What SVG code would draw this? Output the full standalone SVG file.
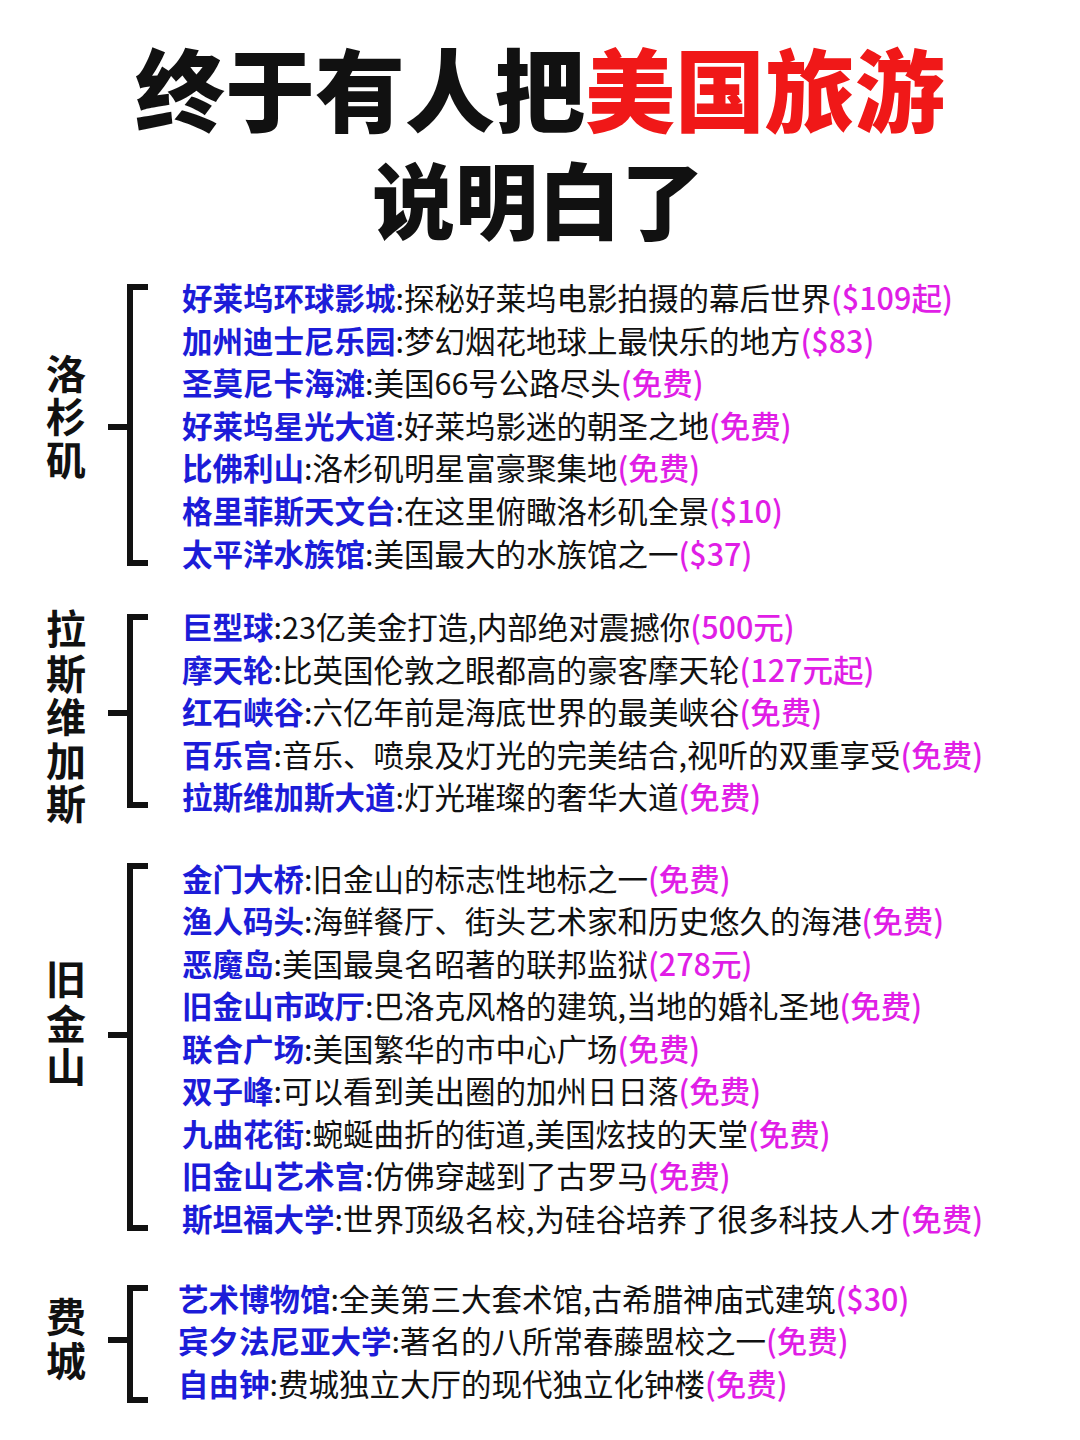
<svg xmlns="http://www.w3.org/2000/svg" width="1080" height="1440" viewBox="0 0 1080 1440">
<style>
.t{font-family:"Noto Sans CJK SC","Noto Sans",sans-serif;font-size:30.5px;fill:#111}
.b{fill:#1c1cd8;font-weight:bold}
.m{fill:#e01ee6;font-weight:500}
.lab{font-family:"Noto Sans CJK SC",sans-serif;font-size:40px;font-weight:bold;fill:#111;text-anchor:middle}
.h{font-family:"Noto Sans CJK SC",sans-serif;font-size:90px;font-weight:900;fill:#111;text-anchor:middle}
.br{fill:none;stroke:#111;stroke-width:6}
</style>
<rect width="1080" height="1440" fill="#fff"/>
<g id="title">
<text class="h" x="540" y="125">终于有人把<tspan fill="#f01818">美国旅游</tspan></text>
<text class="h" x="538" y="233" style="font-size:83px">说明白了</text>
</g>
<g id="connectors">
<path class="br" d="M148 287H130V563H148M130 427H108"/>
<path class="br" d="M148 617H130V805H148M130 713H108"/>
<path class="br" d="M148 866H130V1228H148M130 1035H108"/>
<path class="br" d="M148 1288H130V1400H148M130 1340H108"/>
</g>
<g id="la">
<text class="lab" x="66" y="389">洛</text><text class="lab" x="66" y="432">杉</text><text class="lab" x="66" y="475">矶</text>
<text class="t" x="182" y="310"><tspan class="b">好莱坞环球影城</tspan>:探秘好莱坞电影拍摄的幕后世界<tspan class="m">($109起)</tspan></text>
<text class="t" x="182" y="353"><tspan class="b">加州迪士尼乐园</tspan>:梦幻烟花地球上最快乐的地方<tspan class="m">($83)</tspan></text>
<text class="t" x="182" y="395"><tspan class="b">圣莫尼卡海滩</tspan>:美国66号公路尽头<tspan class="m">(免费)</tspan></text>
<text class="t" x="182" y="438"><tspan class="b">好莱坞星光大道</tspan>:好莱坞影迷的朝圣之地<tspan class="m">(免费)</tspan></text>
<text class="t" x="182" y="480"><tspan class="b">比佛利山</tspan>:洛杉矶明星富豪聚集地<tspan class="m">(免费)</tspan></text>
<text class="t" x="182" y="523"><tspan class="b">格里菲斯天文台</tspan>:在这里俯瞰洛杉矶全景<tspan class="m">($10)</tspan></text>
<text class="t" x="182" y="566"><tspan class="b">太平洋水族馆</tspan>:美国最大的水族馆之一<tspan class="m">($37)</tspan></text>
</g>
<g id="lv">
<text class="lab" x="66" y="644">拉</text><text class="lab" x="66" y="689">斯</text><text class="lab" x="66" y="732">维</text><text class="lab" x="66" y="776">加</text><text class="lab" x="66" y="819">斯</text>
<text class="t" x="182" y="639"><tspan class="b">巨型球</tspan>:23亿美金打造,内部绝对震撼你<tspan class="m">(500元)</tspan></text>
<text class="t" x="182" y="682"><tspan class="b">摩天轮</tspan>:比英国伦敦之眼都高的豪客摩天轮<tspan class="m">(127元起)</tspan></text>
<text class="t" x="182" y="724"><tspan class="b">红石峡谷</tspan>:六亿年前是海底世界的最美峡谷<tspan class="m">(免费)</tspan></text>
<text class="t" x="182" y="767"><tspan class="b">百乐宫</tspan>:音乐、喷泉及灯光的完美结合,视听的双重享受<tspan class="m">(免费)</tspan></text>
<text class="t" x="182" y="809"><tspan class="b">拉斯维加斯大道</tspan>:灯光璀璨的奢华大道<tspan class="m">(免费)</tspan></text>
</g>
<g id="sf">
<text class="lab" x="66" y="994">旧</text><text class="lab" x="66" y="1039">金</text><text class="lab" x="66" y="1082">山</text>
<text class="t" x="182" y="891"><tspan class="b">金门大桥</tspan>:旧金山的标志性地标之一<tspan class="m">(免费)</tspan></text>
<text class="t" x="182" y="933"><tspan class="b">渔人码头</tspan>:海鲜餐厅、街头艺术家和历史悠久的海港<tspan class="m">(免费)</tspan></text>
<text class="t" x="182" y="976"><tspan class="b">恶魔岛</tspan>:美国最臭名昭著的联邦监狱<tspan class="m">(278元)</tspan></text>
<text class="t" x="182" y="1018"><tspan class="b">旧金山市政厅</tspan>:巴洛克风格的建筑,当地的婚礼圣地<tspan class="m">(免费)</tspan></text>
<text class="t" x="182" y="1061"><tspan class="b">联合广场</tspan>:美国繁华的市中心广场<tspan class="m">(免费)</tspan></text>
<text class="t" x="182" y="1103"><tspan class="b">双子峰</tspan>:可以看到美出圈的加州日日落<tspan class="m">(免费)</tspan></text>
<text class="t" x="182" y="1146"><tspan class="b">九曲花街</tspan>:蜿蜒曲折的街道,美国炫技的天堂<tspan class="m">(免费)</tspan></text>
<text class="t" x="182" y="1188"><tspan class="b">旧金山艺术宫</tspan>:仿佛穿越到了古罗马<tspan class="m">(免费)</tspan></text>
<text class="t" x="182" y="1231"><tspan class="b">斯坦福大学</tspan>:世界顶级名校,为硅谷培养了很多科技人才<tspan class="m">(免费)</tspan></text>
</g>
<g id="ph">
<text class="lab" x="66" y="1332">费</text><text class="lab" x="66" y="1376">城</text>
<text class="t" x="178" y="1311"><tspan class="b">艺术博物馆</tspan>:全美第三大套术馆,古希腊神庙式建筑<tspan class="m">($30)</tspan></text>
<text class="t" x="178" y="1353"><tspan class="b">宾夕法尼亚大学</tspan>:著名的八所常春藤盟校之一<tspan class="m">(免费)</tspan></text>
<text class="t" x="178" y="1396"><tspan class="b">自由钟</tspan>:费城独立大厅的现代独立化钟楼<tspan class="m">(免费)</tspan></text>
</g>
</svg>
